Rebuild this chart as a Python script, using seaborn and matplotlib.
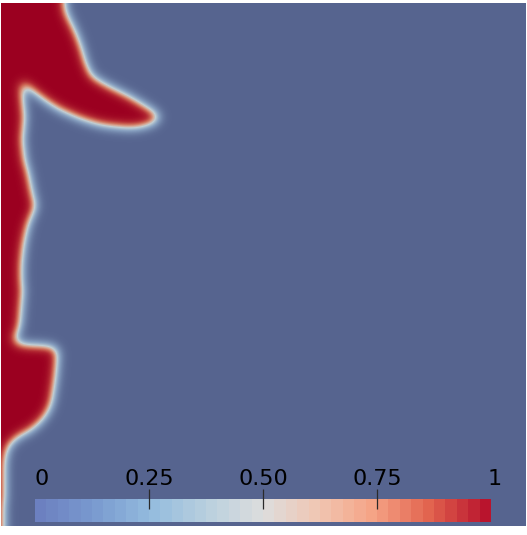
import numpy as np
import pandas as pd
import matplotlib
matplotlib.use("Agg")
import matplotlib.pyplot as plt
from matplotlib.path import Path
from matplotlib.colors import LinearSegmentedColormap, Normalize
import matplotlib.colorbar as mcolorbar
import seaborn as sns

# ---- data (pixel positions of the phase boundary, screen coords) ----
boundary_x = [-20, 62, 66, 70, 75, 79, 83, 86, 92, 100, 107, 117, 127, 136, 144, 152, 160, 156,
              149, 137, 127, 113, 100, 86, 73, 60, 50, 40, 30, 25, 22, 22, 23, 24, 25, 24, 23,
              24, 25, 28, 30, 33, 36, 34, 30, 27, 25, 23, 22, 22, 23, 22, 21, 20, 17, 14,
              20, 35, 50, 56, 58, 57, 56, 54, 52, 48, 43, 36, 30, 20, 12, 8, 6, 5, 5, 5, 4, 4, -20]
boundary_y = [-20, -20, 12, 20, 30, 40, 52, 63, 76, 81, 85, 90, 95, 100, 105, 110, 116, 122,
              125, 128, 128, 127, 125, 121, 116, 110, 104, 97, 89, 84, 83, 88, 97, 107, 117, 128, 140,
              150, 160, 170, 180, 195, 205, 212, 220, 230, 240, 253, 267, 280, 290, 303, 315, 327, 334, 340,
              344, 345, 346, 348, 353, 365, 377, 390, 403, 412, 419, 426, 431, 436, 442, 448, 455, 465, 480, 493, 510, 540, 540]

field_x0, field_x1 = 1, 526     # field extent on screen (px)
field_y0, field_y1 = 3, 526
interface_sigma = 5.5

tick_values = [0.25, 0.5, 0.75]
label_values = [0, 0.25, 0.5, 0.75, 1]
label_texts = ["0", "0.25", "0.50", "0.75", "1"]

# colour maps
bar_colors = [(0.0, (108, 128, 192)), (0.125, (122, 155, 208)), (0.25, (148, 188, 222)),
              (0.375, (185, 208, 222)), (0.5, (221, 221, 221)), (0.625, (240, 198, 178)),
              (0.75, (245, 162, 132)), (0.875, (225, 98, 78)), (1.0, (185, 20, 45))]
field_colors = [(0.0, (86, 100, 143)), (0.3, (135, 160, 192)), (0.5, (192, 205, 210)),
                (0.62, (216, 168, 148)), (0.75, (205, 105, 85)), (0.88, (178, 40, 50)),
                (1.0, (155, 0, 32))]

def make_cmap(name, stops, n=256):
    return LinearSegmentedColormap.from_list(
        name, [(p, tuple(c / 255 for c in rgb)) for p, rgb in stops], N=n)

field_cmap = make_cmap("field", field_colors)
bar_cmap = make_cmap("bar", bar_colors, n=40)

# ---- build the phase field from the boundary ----
nx = field_x1 - field_x0
ny = field_y1 - field_y0
xs = np.arange(nx) + 0.5 + field_x0
ys = np.arange(ny) + 0.5 + field_y0
X, Y = np.meshgrid(xs, ys)
path = Path(np.column_stack([boundary_x, boundary_y]))
inside = path.contains_points(np.column_stack([X.ravel(), Y.ravel()])).reshape(ny, nx).astype(float)

r = int(4 * interface_sigma)
k = np.exp(-0.5 * (np.arange(-r, r + 1) / interface_sigma) ** 2)
k /= k.sum()
pad = np.pad(inside, r, mode="edge")
pad = np.apply_along_axis(lambda v: np.convolve(v, k, mode="same"), 0, pad)
pad = np.apply_along_axis(lambda v: np.convolve(v, k, mode="same"), 1, pad)
phi = pad[r:-r, r:-r]
df = pd.DataFrame(phi)

# ---- figure ----
W, H = 527, 535
fig = plt.figure(figsize=(W / 100, H / 100), dpi=100)
fig.patch.set_facecolor("white")
ax = fig.add_axes([field_x0 / W, 1 - field_y1 / H, nx / W, ny / H])
sns.heatmap(df, ax=ax, cmap=field_cmap, vmin=0, vmax=1, cbar=False,
            xticklabels=False, yticklabels=False, rasterized=True)
ax.set_xlabel("")
ax.set_ylabel("")
for s in ax.spines.values():
    s.set_visible(False)

# colour bar
bx0, bx1, by0, by1 = 35, 491, 499, 522
cax = fig.add_axes([bx0 / W, 1 - by1 / H, (bx1 - bx0) / W, (by1 - by0) / H])
cb = mcolorbar.ColorbarBase(cax, cmap=bar_cmap, norm=Normalize(0, 1), orientation="horizontal")
cb.outline.set_visible(False)
cax.xaxis.set_ticks_position("top")
cax.set_xticks(tick_values)
cax.set_xticklabels([])
cax.tick_params(axis="x", direction="inout", length=14.4, width=0.9, color="#2a2a2a", top=True, bottom=False)
cax.set_zorder(5)

for v, t in zip(label_values, label_texts):
    if v == 0:
        xpos, ha = 0.0, "left"
    elif v == 1:
        xpos, ha = 0.993, "left"
    else:
        xpos, ha = v, "center"
    cax.text(xpos, 1.45, t, transform=cax.transAxes, ha=ha, va="bottom",
             fontsize=16, color="black", family="DejaVu Sans")

fig.savefig("out.png", dpi=100, facecolor="white")
